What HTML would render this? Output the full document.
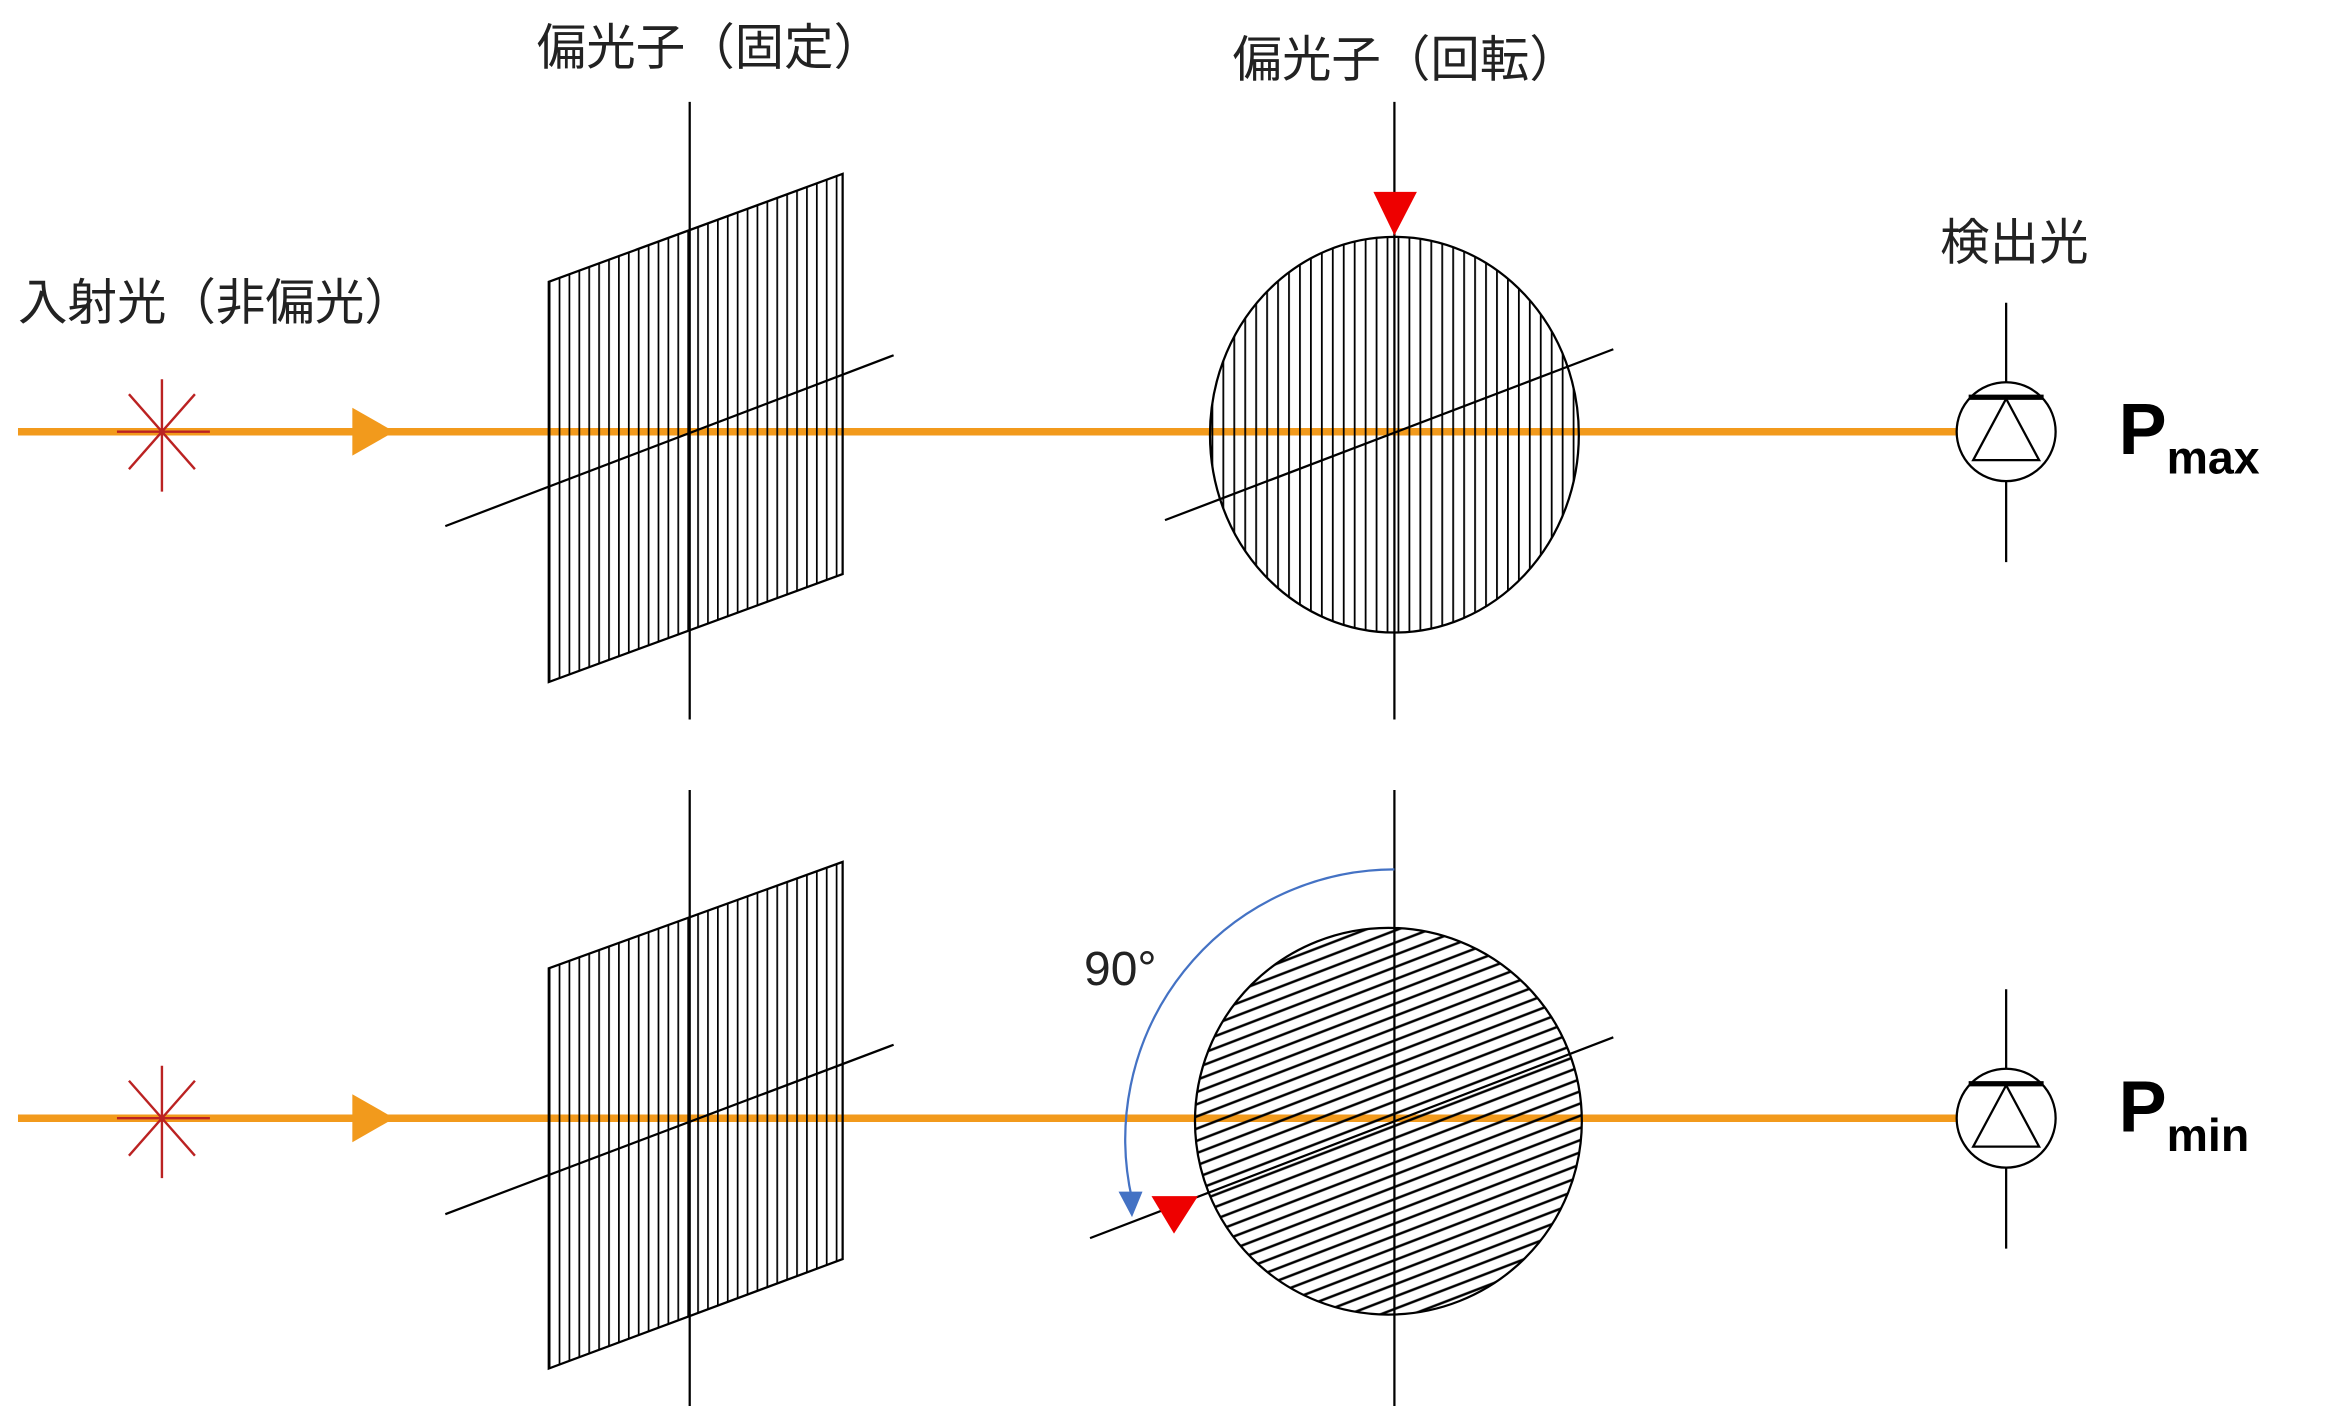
<!DOCTYPE html>
<html><head><meta charset="utf-8"><style>html,body{margin:0;padding:0;background:#fff}svg{display:block}</style></head>
<body>
<svg width="2348" height="1409" viewBox="0 0 1566 940" preserveAspectRatio="none" xmlns="http://www.w3.org/2000/svg">
<defs>
<pattern id="v" patternUnits="userSpaceOnUse" width="6.6" height="10" x="366" y="0"><line x1="0.5" y1="0" x2="0.5" y2="10" stroke="#000" stroke-width="1.3"/></pattern>
<pattern id="v2" patternUnits="userSpaceOnUse" width="7.3" height="10" x="808" y="0"><line x1="0.5" y1="0" x2="0.5" y2="10" stroke="#000" stroke-width="1.4"/></pattern>
<pattern id="d" patternUnits="userSpaceOnUse" width="40" height="7.6" patternTransform="rotate(-21)"><line x1="0" y1="1" x2="40" y2="1" stroke="#000" stroke-width="1.7"/></pattern>
</defs>
<g font-family="Liberation Sans, Noto Sans CJK JP, sans-serif" fill="#222">
<text x="358" y="43" font-size="33">偏光子（固定）</text>
<text x="822" y="51" font-size="33">偏光子（回転）</text>
<text x="12" y="213" font-size="33">入射光（非偏光）</text>
<text x="1294" y="173" font-size="33">検出光</text>
<text x="723" y="657" font-size="32">90°</text>
</g>
<g font-family="Liberation Sans, sans-serif" font-weight="bold" fill="#000">
<text x="1413" y="303" font-size="48">P<tspan font-size="31" dy="13">max</tspan></text>
<text x="1413" y="755" font-size="48">P<tspan font-size="31" dy="13">min</tspan></text>
</g>
<g stroke="#F29A1C" stroke-width="5">
<line x1="12" y1="288" x2="1305" y2="288"/>
<line x1="12" y1="746" x2="1305" y2="746"/>
</g>
<polygon points="235,272 263,288 235,304" fill="#F29A1C"/>
<polygon points="235,730 263,746 235,762" fill="#F29A1C"/>
<g stroke="#B22" stroke-width="1.6">
<line x1="78" y1="288" x2="140" y2="288"/><line x1="108" y1="253" x2="108" y2="328"/><line x1="86" y1="263" x2="130" y2="313"/><line x1="130" y1="263" x2="86" y2="313"/>
<line x1="78" y1="746" x2="140" y2="746"/><line x1="108" y1="711" x2="108" y2="786"/><line x1="86" y1="721" x2="130" y2="771"/><line x1="130" y1="721" x2="86" y2="771"/>
</g>
<g stroke="#000" stroke-width="1.5">
<polygon points="366,188 562,116 562,383 366,455" fill="url(#v)"/>
<polygon points="366,646 562,575 562,840 366,913" fill="url(#v)"/>
<line x1="460" y1="68" x2="460" y2="480"/>
<line x1="297" y1="351" x2="596" y2="237"/>
<line x1="460" y1="527" x2="460" y2="938"/>
<line x1="297" y1="810" x2="596" y2="697"/>
</g>
<g stroke="#000" stroke-width="1.5">
<ellipse cx="930" cy="290" rx="123" ry="132" fill="url(#v2)"/>
<line x1="930" y1="68" x2="930" y2="480"/>
<line x1="777" y1="347" x2="1076" y2="233"/>
</g>
<polygon points="916,128 945,128 930,157" fill="#E00"/>
<g stroke="#000" stroke-width="1.5">
<circle cx="926" cy="748" r="129" fill="url(#d)"/>
<line x1="930" y1="527" x2="930" y2="938"/>
<line x1="727" y1="826" x2="1076" y2="692"/>
</g>
<path d="M930,580 A180,180 0 0 0 755,800" fill="none" stroke="#4472C4" stroke-width="1.5"/>
<polygon points="746,795 762,795 755,812" fill="#4472C4"/>
<polygon points="768,798 799,798 783,823" fill="#E00"/>
<g stroke="#000" stroke-width="1.5" fill="none">
<line x1="1338" y1="202" x2="1338" y2="375"/>
<circle cx="1338" cy="288" r="33" fill="#fff"/>
<polygon points="1338,266 1316,307 1360,307"/>
<line x1="1313" y1="265" x2="1363" y2="265" stroke-width="3.5"/>
<line x1="1338" y1="660" x2="1338" y2="833"/>
<circle cx="1338" cy="746" r="33" fill="#fff"/>
<polygon points="1338,724 1316,765 1360,765"/>
<line x1="1313" y1="723" x2="1363" y2="723" stroke-width="3.5"/>
</g>
</svg>
</body></html>
